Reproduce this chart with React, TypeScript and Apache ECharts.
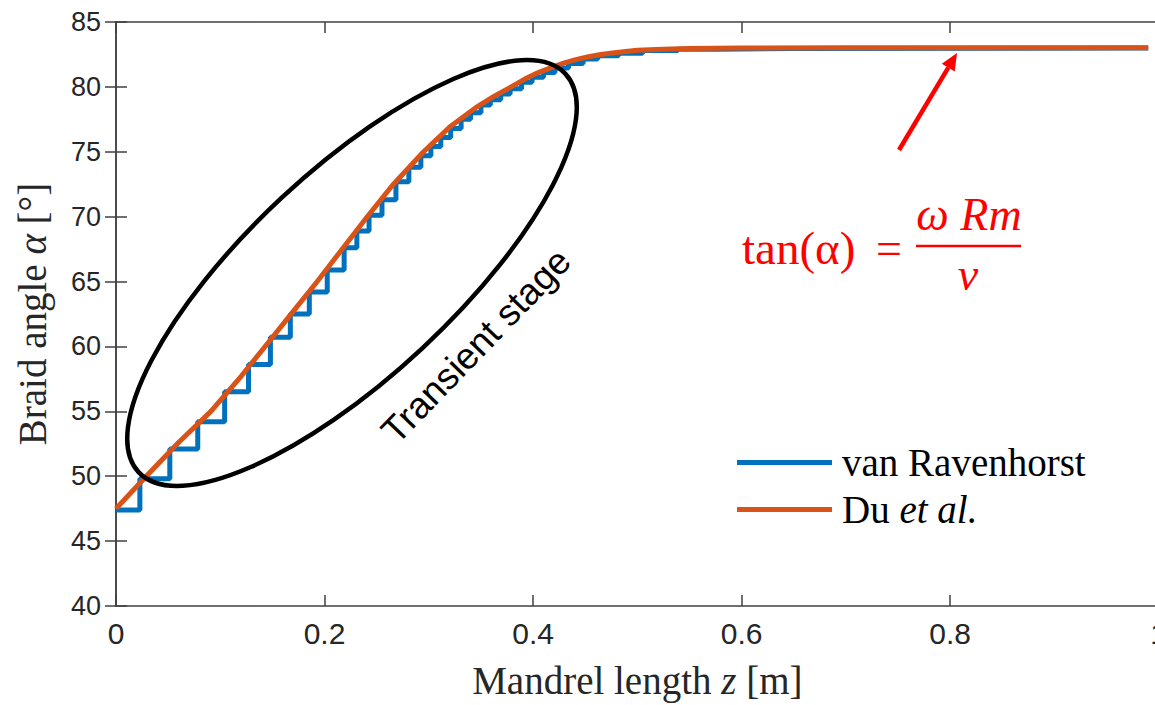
import React, { useEffect, useRef } from "react";
import * as echarts from "echarts";

// van Ravenhorst: step start positions z [m] and held braid angle [deg]
const zBlue = [0, 0.0229, 0.0516, 0.0784, 0.1042, 0.1271, 0.1481, 0.1672, 0.1854, 0.2026, 0.2188, 0.231, 0.2427, 0.2551, 0.2685, 0.2809, 0.2924, 0.302, 0.3115, 0.321, 0.331, 0.34, 0.35, 0.359, 0.369, 0.378, 0.389, 0.399, 0.41, 0.421, 0.434, 0.448, 0.462, 0.482, 0.505, 0.539, 0.577, 0.65, 0.99];
const angleBlue = [47.4, 49.8, 52.1, 54.2, 56.5, 58.6, 60.7, 62.5, 64.2, 65.9, 67.6, 68.9, 70.1, 71.3, 72.7, 73.8, 74.7, 75.4, 76.1, 76.8, 77.5, 78.0, 78.6, 79.0, 79.45, 79.85, 80.35, 80.75, 81.1, 81.45, 81.8, 82.15, 82.4, 82.6, 82.8, 82.9, 82.95, 83.0, 83.0];

// Du et al.: smooth curve
const zDu = [0, 0.029, 0.06, 0.091, 0.12, 0.143, 0.17, 0.193, 0.215, 0.24, 0.265, 0.295, 0.32, 0.345, 0.362, 0.379, 0.392, 0.405, 0.418, 0.43, 0.441, 0.452, 0.465, 0.48, 0.5, 0.525, 0.55, 0.6, 0.7, 0.8, 0.99];
const angleDu = [47.5, 50.0, 52.6, 55.0, 57.7, 60.0, 62.7, 65.0, 67.3, 69.9, 72.4, 75.0, 76.9, 78.4, 79.25, 80.0, 80.6, 81.1, 81.5, 81.85, 82.1, 82.3, 82.5, 82.65, 82.82, 82.9, 82.95, 83.0, 83.02, 83.02, 83.02];

const seriesNames = ["van Ravenhorst", "Du et al."];
const xRange = [0, 1];
const xStep = 0.2;
const yRange = [40, 85];
const yStep = 5;

const AXIS = "#404040";
const SERIF = "'Liberation Serif', 'Times New Roman', serif";
const SANS = "'Liberation Sans', Arial, sans-serif";
const NARROW = "'Liberation Sans Narrow', 'Liberation Sans', Arial, sans-serif";

export default function App() {
  const ref = useRef<HTMLDivElement>(null);
  useEffect(() => {
    if (!ref.current) return;
    const chart = echarts.init(ref.current, null, { renderer: "svg" });
    const blueData = zBlue.map((z, i) => [z, angleBlue[i]]);
    const duData = zDu.map((z, i) => [z, angleDu[i]]);
    const deg = Math.PI / 180;
    const tip = [957, 53];
    const tail = [899, 150];
    const dx = tip[0] - tail[0], dy = tip[1] - tail[1];
    const L = Math.hypot(dx, dy);
    const ux = dx / L, uy = dy / L;
    const hl = 17, hw = 7.5;
    const bx = tip[0] - ux * hl, by = tip[1] - uy * hl;
    const px = -uy, py = ux;

    const axisCommon = {
      type: "value" as const,
      axisLine: { show: true, lineStyle: { color: AXIS, width: 1.5 } },
      axisTick: { show: true, inside: true, length: 11, lineStyle: { color: AXIS, width: 1.5 } },
      splitLine: { show: false },
    };

    chart.setOption({
      animation: false,
      backgroundColor: "#ffffff",
      grid: { left: 116, top: 22, right: 8, bottom: 99, containLabel: false },
      legend: {
        orient: "vertical",
        left: 737,
        top: 443,
        icon: "rect",
        itemWidth: 95,
        itemHeight: 5,
        itemGap: 8,
        padding: 0,
        data: seriesNames,
        formatter: (name: string) =>
          name === "Du et al." ? "{r|Du }{i|et al.}" : "{r|" + name + "}",
        textStyle: {
          color: "#000",
          rich: {
            r: { fontFamily: SERIF, fontSize: 39, lineHeight: 40, color: "#000", padding: [0, 0, 0, 5] },
            i: { fontFamily: SERIF, fontSize: 39, lineHeight: 40, fontStyle: "italic", color: "#000" },
          },
        },
      },
      xAxis: [
        {
          ...axisCommon,
          position: "bottom",
          min: xRange[0],
          max: xRange[1],
          interval: xStep,
          axisLabel: { color: "#262626", fontFamily: NARROW, fontSize: 30, margin: 12 },
          name: "Mandrel length {i|z} [m]",
          nameLocation: "middle",
          nameGap: 55,
          nameTextStyle: {
            color: "#262626",
            fontFamily: SERIF,
            fontSize: 39,
            rich: { i: { fontFamily: SERIF, fontSize: 39, fontStyle: "italic", color: "#262626" } },
          },
        },
        {
          ...axisCommon,
          position: "top",
          min: xRange[0],
          max: xRange[1],
          interval: xStep,
          axisLabel: { show: false },
        },
      ],
      yAxis: [
        {
          ...axisCommon,
          position: "left",
          min: yRange[0],
          max: yRange[1],
          interval: yStep,
          axisLabel: { color: "#262626", fontFamily: SANS, fontSize: 27, margin: 15 },
          name: "Braid angle {i|α} [°]",
          nameLocation: "middle",
          nameGap: 64,
          nameTextStyle: {
            color: "#262626",
            fontFamily: SERIF,
            fontSize: 39,
            rich: { i: { fontFamily: SERIF, fontSize: 39, fontStyle: "italic", color: "#262626" } },
          },
        },
        {
          ...axisCommon,
          position: "right",
          min: yRange[0],
          max: yRange[1],
          interval: yStep,
          axisLabel: { show: false },
        },
      ],
      series: [
        {
          name: seriesNames[0],
          type: "line",
          step: "end",
          data: blueData,
          showSymbol: false,
          symbol: "none",
          lineStyle: { color: "#0072BD", width: 5 },
          itemStyle: { color: "#0072BD" },
          z: 2,
        },
        {
          name: seriesNames[1],
          type: "line",
          data: duData,
          showSymbol: false,
          symbol: "none",
          lineStyle: { color: "#D95319", width: 5, join: "round" },
          itemStyle: { color: "#D95319" },
          z: 3,
        },
      ],
      graphic: [
        {
          type: "ellipse",
          x: 352,
          y: 273,
          rotation: 43 * deg,
          shape: { cx: 0, cy: 0, rx: 292, ry: 103 },
          style: { fill: "none", stroke: "#000", lineWidth: 4.5 },
          z: 100,
        },
        {
          type: "text",
          x: 476,
          y: 346,
          rotation: 46 * deg,
          style: {
            text: "Transient stage",
            font: "37px " + SANS,
            fill: "#000",
            align: "center",
            verticalAlign: "middle",
          },
          z: 100,
        },
        {
          type: "line",
          shape: { x1: tail[0], y1: tail[1], x2: bx, y2: by },
          style: { stroke: "#FF0000", lineWidth: 4.5 },
          z: 100,
        },
        {
          type: "polygon",
          shape: {
            points: [
              [tip[0], tip[1]],
              [bx + px * hw, by + py * hw],
              [bx - px * hw, by - py * hw],
            ],
          },
          style: { fill: "#FF0000" },
          z: 100,
        },
        {
          type: "text",
          x: 742,
          y: 248,
          style: { text: "tan(α)", font: "47px " + SERIF, fill: "#FF0000", align: "left", verticalAlign: "middle" },
          z: 100,
        },
        {
          type: "text",
          x: 889,
          y: 248,
          style: { text: "=", font: "46px " + SERIF, fill: "#FF0000", align: "center", verticalAlign: "middle" },
          z: 100,
        },
        {
          type: "text",
          x: 969,
          y: 214,
          style: { text: "ω Rm", font: "italic 46px " + SERIF, fill: "#FF0000", align: "center", verticalAlign: "middle" },
          z: 100,
        },
        {
          type: "line",
          shape: { x1: 916, y1: 246, x2: 1021, y2: 246 },
          style: { stroke: "#FF0000", lineWidth: 2.5 },
          z: 100,
        },
        {
          type: "text",
          x: 968,
          y: 274,
          style: { text: "v", font: "italic 46px " + SERIF, fill: "#FF0000", align: "center", verticalAlign: "middle" },
          z: 100,
        },
      ],
    });
    return () => chart.dispose();
  }, []);
  return (
    <div style={{ position: "absolute", left: 0, top: 0, width: 1155, height: 705, overflow: "hidden", background: "#fff" }}>
      <div ref={ref} style={{ position: "absolute", left: 0, top: 0, width: 1170, height: 705 }} />
    </div>
  );
}
